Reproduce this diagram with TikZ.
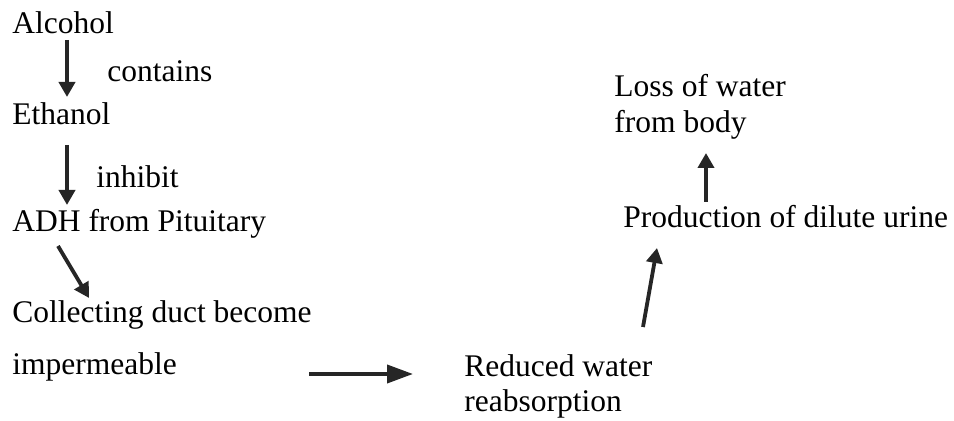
\documentclass[tikz,border=0pt]{standalone}
\usepackage{fontspec}
\setmainfont{Liberation Serif}
\usetikzlibrary{positioning, arrows.meta}

\begin{document}
\begin{tikzpicture}[x=0.5pt, y=-0.5pt,
    lbl/.style={anchor=base west, inner sep=0pt, font=\fontsize{15.75}{18}\selectfont},
    flow/.style={-{Triangle[length=7.5pt, width=8pt]}, line width=1.9pt, color=black!85}]
  \useasboundingbox (0,0) rectangle (954,421);
  \path
    (12,34) node[lbl] (alcohol){Alcohol}
    (107,82) node[lbl] (contains){contains}
    (12,125) node[lbl] (ethanol){Ethanol}
    (96,188) node[lbl] (inhibit){inhibit}
    (12,232) node[lbl] (adh){ADH from Pituitary}
    (12,323) node[lbl] (collect){Collecting duct become}
    (12,375) node[lbl] (imperm){impermeable}
    (464,377) node[lbl] (reduced){Reduced water}
    (464,412) node[lbl] (reabs){reabsorption}
    (623,228) node[lbl] (dilute){Production of dilute urine}
    (614,97) node[lbl] (loss){Loss of water}
    (614,133) node[lbl] (body){from body};
  \begin{scope}[flow]
    \draw ([shift={(55,6)}]alcohol.base west) to ([shift={(55,-28)}]ethanol.base west);
    \draw ([shift={(55,20)}]ethanol.base west) to ([shift={(55,-27)}]adh.base west);
    \draw ([shift={(46,14)}]adh.base west) to ([shift={(77,-25)}]collect.base west);
    \draw[-{Triangle[length=13pt, width=9pt]}] ([shift={(297,-1)}]imperm.base west) to ([shift={(-51,-3)}]reduced.base west);
    \draw ([shift={(179,-50)}]reduced.base west) to ([shift={(34,20)}]dilute.base west);
    \draw ([shift={(83,-26)}]dilute.base west) to ([shift={(92,20)}]body.base west);
  \end{scope}
\end{tikzpicture}
\end{document}
